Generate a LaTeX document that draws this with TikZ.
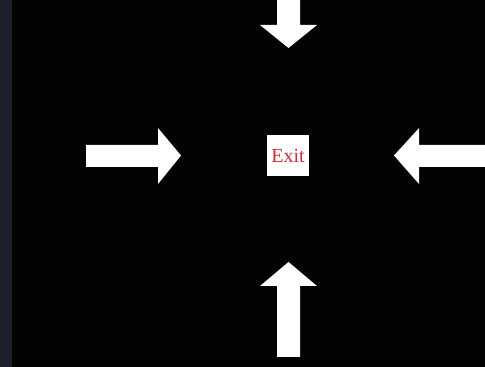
\documentclass[tikz,border=0pt]{standalone}
\usepackage{fontspec}
\setmainfont{Liberation Serif}
\definecolor{sidebar}{HTML}{1B202B}
\definecolor{exitred}{HTML}{C8303A}
\begin{document}
\begin{tikzpicture}[x=1pt, y=1pt,
  sign/.style={fill=white, draw=none},
  exitbox/.style={fill=white, minimum width=42pt, minimum height=41pt,
                  inner sep=0pt, text=exitred, font=\fontsize{20}{24}\selectfont}
]
  \useasboundingbox (0,0) rectangle (485,367);
  \fill[black!99] (0,0) rectangle (485,367);
  \fill[sidebar] (0,0) rectangle (12,367);
  \node[exitbox] (exit) at (288,211.5) {Exit};
  % arrows pointing to the exit
  \fill[sign] (277,367) -- (277,342) -- (260,342) -- (288.5,319)
              -- (317,342) -- (300,342) -- (300,367) -- cycle;
  \fill[sign] (86,200) -- (158,200) -- (158,183) -- (181,211.5)
              -- (158,239) -- (158,222) -- (86,222) -- cycle;
  \fill[sign] (485,200) -- (419,200) -- (419,183) -- (394,211.5)
              -- (419,239) -- (419,222) -- (485,222) -- cycle;
  \fill[sign] (277,10) -- (277,81) -- (260,81) -- (288.5,105)
              -- (317,81) -- (300,81) -- (300,10) -- cycle;
\end{tikzpicture}
\end{document}
